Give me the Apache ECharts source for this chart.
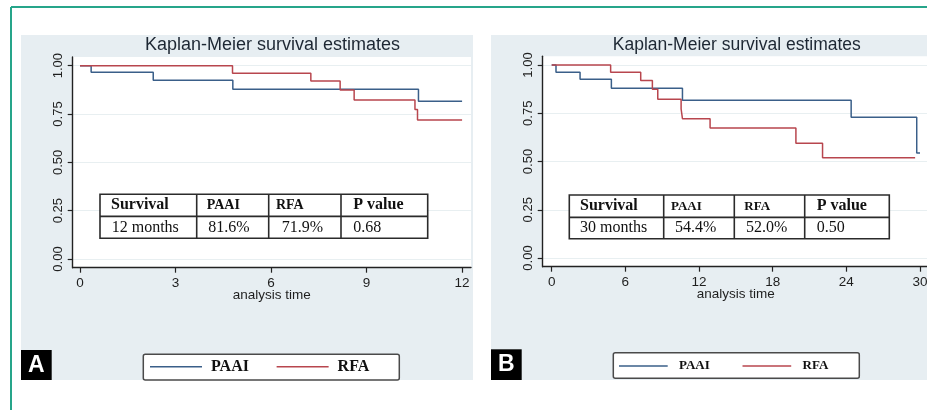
<!DOCTYPE html>
<html>
<head>
<meta charset="utf-8">
<script src="https://cdn.jsdelivr.net/npm/echarts@6/dist/echarts.min.js"></script>
<style>
html,body{margin:0;padding:0;background:#fff;}
#c{width:927px;height:410px;}
</style>
</head>
<body>
<div id="c"></div>
<script>
// ---------- data ----------
const chartTitle = 'Kaplan-Meier survival estimates';
const xAxisTitle = 'analysis time';
const seriesNames = ['PAAI', 'RFA'];
const panelLetters = ['A', 'B'];

const xTicksA = [0, 3, 6, 9, 12];
const xTicksB = [0, 6, 12, 18, 24, 30];
const yTicks = [0, 0.25, 0.5, 0.75, 1];

// Kaplan-Meier step points [time, survival]
const paaiA = [[0, 1], [0.35, 0.966], [2.3, 0.925], [4.8, 0.878], [10.63, 0.816], [12, 0.816]];
const rfaA = [[0, 1], [4.79, 0.961], [7.25, 0.921], [8.17, 0.874], [8.61, 0.823], [10.52, 0.774], [10.6, 0.719], [12, 0.719]];
const paaiB = [[0, 1], [0.35, 0.962], [2.31, 0.926], [4.86, 0.879], [10.65, 0.817], [24.39, 0.729], [29.73, 0.544], [30, 0.544]];
const rfaB = [[0, 1], [4.8, 0.962], [7.25, 0.919], [8.2, 0.874], [8.64, 0.823], [10.54, 0.772], [10.65, 0.722], [12.9, 0.673], [19.89, 0.595], [22.06, 0.52], [29.6, 0.52]];

const tableHeader = ['Survival', 'PAAI', 'RFA', 'P value'];
const tableRowA = ['12 months', '81.6%', '71.9%', '0.68'];
const tableRowB = ['30 months', '54.4%', '52.0%', '0.50'];

// ---------- styles / layout ----------
const BLUE = '#3a5f89';
const RED = '#b8464e';
const PANEL_BG = '#e7eef2';
const SANS = 'Liberation Sans, Arial, sans-serif';
const SERIF = 'Liberation Serif, Times New Roman, serif';

const gridA = {left: 72.7, top: 57, width: 398.3, height: 210.7};
const gridB = {left: 542.7, top: 56.3, width: 386.3, height: 210.4};

function makeGrid(g) {
  return {left: g.left, top: g.top, width: g.width, height: g.height, show: false, containLabel: false, outerBoundsMode: 'none'};
}
function makeX(gi, min, max, ticks) {
  return {
    type: 'value', gridIndex: gi, min: min, max: max,
    name: xAxisTitle, nameLocation: 'middle', nameGap: 21, nameMoveOverlap: false,
    nameTextStyle: {fontFamily: SANS, fontSize: 13.5, color: '#1f1f1f'},
    axisLine: {show: true, onZero: false, lineStyle: {color: '#222', width: 1.4}},
    axisTick: {show: true, length: 5, customValues: ticks, lineStyle: {color: '#222', width: 1.2}},
    axisLabel: {show: true, customValues: ticks, margin: 9, fontFamily: SANS, fontSize: 13.5, color: '#1f1f1f', formatter: v => String(v)},
    splitLine: {show: false}
  };
}
function makeY(gi) {
  return {
    type: 'value', gridIndex: gi, min: -0.045, max: 1.045,
    axisLine: {show: true, onZero: false, lineStyle: {color: '#222', width: 1.4}},
    axisTick: {show: true, length: 5, customValues: yTicks, lineStyle: {color: '#222', width: 1.2}},
    axisLabel: {show: true, customValues: yTicks, rotate: 90, margin: 8, fontFamily: SANS, fontSize: 13, color: '#1f1f1f', formatter: v => v.toFixed(2)},
    splitLine: {show: true, lineStyle: {color: '#e8eff1', width: 1}}
  };
}
function km(name, data, color, gi) {
  return {
    type: 'line', name: name, data: data, step: 'end', xAxisIndex: gi, yAxisIndex: gi,
    symbol: 'none', showSymbol: false, silent: true,
    lineStyle: {color: color, width: 1.5}, itemStyle: {color: color}, z: 3
  };
}

// table graphic
function table(borders, yTop, yMid, yBot, header, row, headPads, rowPads, headSizes) {
  const els = [];
  const x0 = borders[0], x1 = borders[borders.length - 1];
  els.push({type: 'rect', z: 20, shape: {x: x0, y: yTop, width: x1 - x0, height: yBot - yTop},
    style: {fill: '#fff', stroke: '#2b2b2b', lineWidth: 1.6}});
  els.push({type: 'line', z: 21, shape: {x1: x0, y1: yMid, x2: x1, y2: yMid}, style: {stroke: '#2b2b2b', lineWidth: 1.8}});
  for (let i = 1; i < borders.length - 1; i++) {
    els.push({type: 'line', z: 21, shape: {x1: borders[i], y1: yTop, x2: borders[i], y2: yBot}, style: {stroke: '#2b2b2b', lineWidth: 1.6}});
  }
  for (let i = 0; i < header.length; i++) {
    els.push({type: 'text', z: 22, style: {text: header[i], x: borders[i] + headPads[i], y: (yTop + yMid) / 2,
      align: 'left', verticalAlign: 'middle', fontFamily: SERIF, fontWeight: 'bold', fontSize: headSizes[i], fill: '#111'}});
    els.push({type: 'text', z: 22, style: {text: row[i], x: borders[i] + rowPads[i], y: (yMid + yBot) / 2,
      align: 'left', verticalAlign: 'middle', fontFamily: SERIF, fontSize: 16, fill: '#111'}});
  }
  return els;
}

const graphics = [
  // frame lines
  {type: 'line', z: -20, shape: {x1: 11, y1: 7, x2: 927, y2: 7}, style: {stroke: '#26a58a', lineWidth: 2}},
  {type: 'line', z: -20, shape: {x1: 11, y1: 7, x2: 11, y2: 410}, style: {stroke: '#26a58a', lineWidth: 2}},
  // panel backgrounds
  {type: 'rect', z: -20, shape: {x: 21, y: 35, width: 452, height: 345}, style: {fill: PANEL_BG}},
  {type: 'rect', z: -20, shape: {x: 491, y: 35, width: 436, height: 345}, style: {fill: PANEL_BG}},
  // plot regions
  {type: 'rect', z: -15, shape: {x: gridA.left, y: gridA.top, width: gridA.width, height: gridA.height}, style: {fill: '#fff'}},
  {type: 'rect', z: -15, shape: {x: gridB.left, y: gridB.top, width: gridB.width, height: gridB.height}, style: {fill: '#fff'}},
  // titles
  {type: 'text', z: 30, style: {text: chartTitle, x: 272.5, y: 45, align: 'center', verticalAlign: 'middle', fontFamily: SANS, fontSize: 18, fill: '#1d2733'}},
  {type: 'text', z: 30, style: {text: chartTitle, x: 736.8, y: 45, align: 'center', verticalAlign: 'middle', fontFamily: SANS, fontSize: 17.5, fill: '#1d2733'}},
  // legend boxes
  {type: 'rect', z: 1, shape: {x: 143.3, y: 354.3, width: 256, height: 25.7, r: 2}, style: {fill: '#fff', stroke: '#4a4a4a', lineWidth: 1.5}},
  {type: 'rect', z: 1, shape: {x: 613.3, y: 352.7, width: 246, height: 25.6, r: 2}, style: {fill: '#fff', stroke: '#4a4a4a', lineWidth: 1.5}},
  // panel letters
  {type: 'rect', z: 30, shape: {x: 21, y: 350, width: 30.7, height: 30}, style: {fill: '#000'}},
  {type: 'text', z: 31, style: {text: panelLetters[0], x: 36.3, y: 365.5, align: 'center', verticalAlign: 'middle', fontFamily: SANS, fontWeight: 'bold', fontSize: 23, fill: '#fff'}},
  {type: 'rect', z: 30, shape: {x: 491, y: 349.3, width: 30.7, height: 30.7}, style: {fill: '#000'}},
  {type: 'text', z: 31, style: {text: panelLetters[1], x: 506.3, y: 365, align: 'center', verticalAlign: 'middle', fontFamily: SANS, fontWeight: 'bold', fontSize: 23, fill: '#fff'}}
].concat(
  table([100, 196.7, 268.7, 341, 427.7], 194.3, 216.3, 238.3, tableHeader, tableRowA,
        [11, 10, 7.3, 12.3], [11.7, 11.6, 13, 12.3], [16, 14, 14, 16]),
  table([569.3, 663.7, 734.3, 804.7, 889.3], 195, 217.3, 238.7, tableHeader, tableRowB,
        [10.7, 7.3, 10, 12], [10.7, 11.3, 11.7, 12], [16, 13, 13, 16])
);

const option = {
  animation: false,
  backgroundColor: '#ffffff',
  grid: [makeGrid(gridA), makeGrid(gridB)],
  xAxis: [makeX(0, -0.229, 12.28, xTicksA), makeX(1, -0.733, 30.73, xTicksB)],
  yAxis: [makeY(0), makeY(1)],
  legend: [
    {data: seriesNames, left: 150, top: 358.7, orient: 'horizontal', icon: 'rect', itemWidth: 52, itemHeight: 1.6,
     itemGap: 27.7, padding: 0, selectedMode: false, z: 5,
     textStyle: {fontFamily: SERIF, fontWeight: 'bold', fontSize: 16, lineHeight: 16, color: '#111', padding: [0, 0, 0, 4]}},
    {data: seriesNames, left: 619, top: 359.5, orient: 'horizontal', icon: 'rect', itemWidth: 48.7, itemHeight: 1.6,
     itemGap: 32.7, padding: 0, selectedMode: false, z: 5,
     textStyle: {fontFamily: SERIF, fontWeight: 'bold', fontSize: 13, lineHeight: 13, color: '#111', padding: [0, 0, 0, 6.3]}}
  ],
  series: [
    km(seriesNames[0], paaiA, BLUE, 0),
    km(seriesNames[1], rfaA, RED, 0),
    km(seriesNames[0], paaiB, BLUE, 1),
    km(seriesNames[1], rfaB, RED, 1)
  ],
  graphic: {elements: graphics}
};

const chart = echarts.init(document.getElementById('c'), null, {renderer: 'canvas'});
chart.setOption(option);
</script>
</body>
</html>
